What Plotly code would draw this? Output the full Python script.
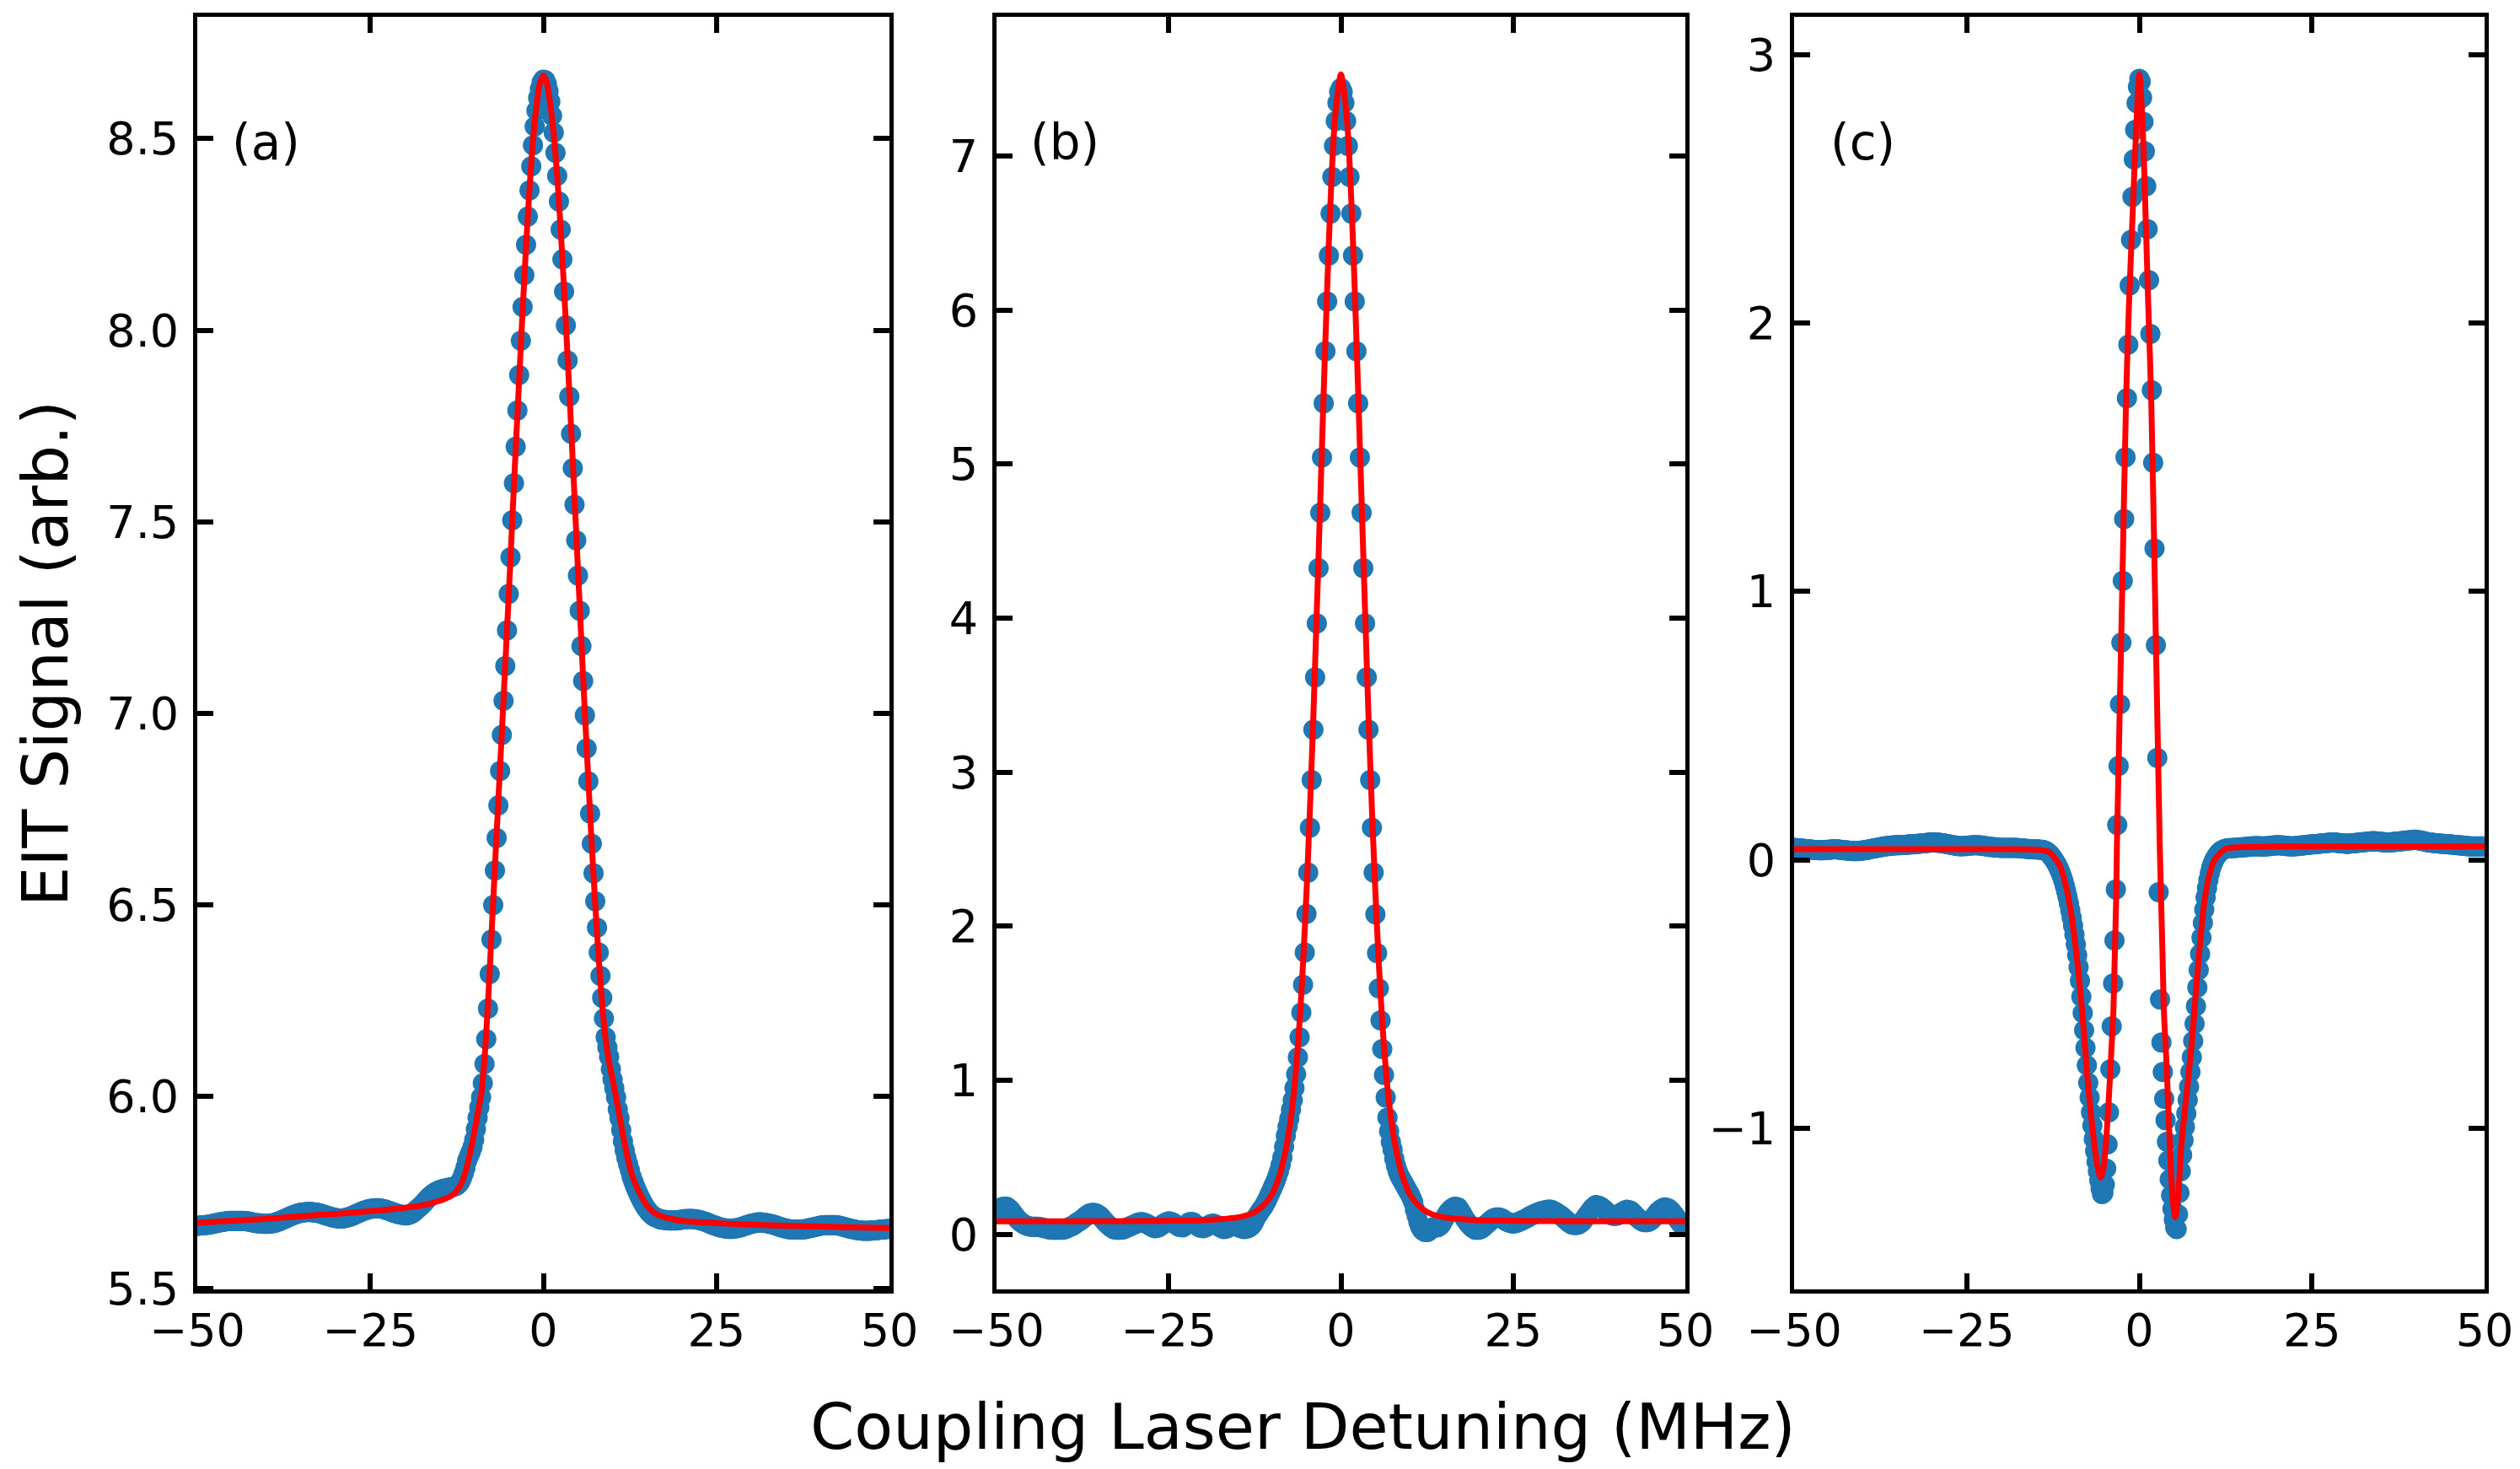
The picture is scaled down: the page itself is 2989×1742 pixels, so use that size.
import numpy as np
import plotly.graph_objects as go

# ---------------- data ----------------
# evenly spaced detuning scans (MHz)
N_A, N_B, N_C = 401, 401, 501
det_a = np.linspace(-50, 50, N_A)
det_b = np.linspace(-50, 50, N_B)
det_c = np.linspace(-50, 50, N_C)

# panel (a) measured EIT signal
sig_a = [
 5.663, 5.663, 5.664, 5.664, 5.664, 5.665, 5.666, 5.666, 5.667, 5.668, 5.669, 5.670,
 5.671, 5.672, 5.673, 5.673, 5.674, 5.675, 5.675, 5.676, 5.676, 5.676, 5.676, 5.676,
 5.676, 5.676, 5.676, 5.675, 5.675, 5.674, 5.674, 5.673, 5.672, 5.671, 5.670, 5.670,
 5.669, 5.669, 5.668, 5.668, 5.668, 5.668, 5.669, 5.669, 5.670, 5.671, 5.673, 5.674,
 5.676, 5.678, 5.680, 5.682, 5.684, 5.686, 5.688, 5.690, 5.692, 5.693, 5.695, 5.696,
 5.697, 5.698, 5.698, 5.699, 5.699, 5.699, 5.699, 5.698, 5.698, 5.697, 5.696, 5.695,
 5.694, 5.692, 5.691, 5.689, 5.688, 5.687, 5.685, 5.684, 5.683, 5.683, 5.682, 5.682,
 5.682, 5.683, 5.684, 5.685, 5.686, 5.688, 5.690, 5.692, 5.694, 5.696, 5.698, 5.700,
 5.702, 5.703, 5.705, 5.706, 5.707, 5.708, 5.708, 5.709, 5.709, 5.709, 5.708, 5.707,
 5.706, 5.705, 5.703, 5.702, 5.700, 5.698, 5.697, 5.695, 5.694, 5.693, 5.692, 5.691,
 5.690, 5.690, 5.691, 5.693, 5.695, 5.698, 5.702, 5.706, 5.710, 5.714, 5.718, 5.723,
 5.728, 5.733, 5.738, 5.742, 5.746, 5.749, 5.752, 5.754, 5.756, 5.758, 5.759, 5.760,
 5.761, 5.762, 5.763, 5.764, 5.765, 5.766, 5.768, 5.772, 5.778, 5.788, 5.800, 5.815,
 5.833, 5.845, 5.855, 5.868, 5.887, 5.915, 5.945, 5.972, 5.998, 6.035, 6.085, 6.150,
 6.230, 6.320, 6.410, 6.500, 6.590, 6.675, 6.760, 6.850, 6.944, 7.033, 7.124, 7.217,
 7.312, 7.408, 7.504, 7.601, 7.696, 7.791, 7.883, 7.973, 8.061, 8.144, 8.223, 8.297,
 8.365, 8.428, 8.483, 8.532, 8.573, 8.606, 8.630, 8.647,
 8.654, 8.653, 8.643, 8.624, 8.597, 8.560, 8.516, 8.463, 8.403, 8.336, 8.263, 8.185,
 8.101, 8.013, 7.921, 7.827, 7.730, 7.640, 7.545, 7.452, 7.360, 7.268, 7.176, 7.085,
 6.995, 6.909, 6.823, 6.739, 6.660, 6.583, 6.510, 6.441, 6.376, 6.315, 6.258, 6.204,
 6.155, 6.128, 6.104, 6.072, 6.045, 6.022, 5.998, 5.967, 5.944, 5.913, 5.883, 5.860,
 5.840, 5.824, 5.808, 5.791, 5.778, 5.766, 5.755, 5.745, 5.736, 5.727, 5.719, 5.711,
 5.705, 5.699, 5.694, 5.690, 5.687, 5.685, 5.683, 5.681,
 5.679, 5.679, 5.678, 5.678, 5.677, 5.677, 5.677, 5.677, 5.677, 5.677, 5.678, 5.678,
 5.679, 5.680, 5.680, 5.681, 5.681, 5.681, 5.681, 5.680, 5.680, 5.679, 5.678, 5.677,
 5.676, 5.674, 5.673, 5.671, 5.669, 5.667, 5.665, 5.664, 5.662, 5.661, 5.659, 5.658,
 5.657, 5.656, 5.656, 5.655, 5.655, 5.655, 5.656, 5.656, 5.657, 5.658, 5.659, 5.661,
 5.662, 5.664, 5.665, 5.667, 5.668, 5.669, 5.670, 5.671, 5.672, 5.672, 5.672, 5.671,
 5.671, 5.670, 5.669, 5.668, 5.667, 5.666, 5.664, 5.663, 5.661, 5.660, 5.658, 5.657,
 5.656, 5.655, 5.654, 5.654, 5.653, 5.653, 5.653, 5.653, 5.653, 5.653, 5.654, 5.654,
 5.655, 5.656, 5.657, 5.658, 5.659, 5.660, 5.661, 5.662, 5.663, 5.664, 5.664, 5.665,
 5.665, 5.665, 5.665, 5.665, 5.665, 5.664, 5.664, 5.663, 5.662, 5.661, 5.660, 5.658,
 5.657, 5.656, 5.655, 5.654, 5.653, 5.652, 5.651, 5.651, 5.650, 5.650, 5.650, 5.650,
 5.650, 5.650, 5.651, 5.651, 5.651, 5.652, 5.652, 5.653, 5.653, 5.654, 5.654, 5.655,
 5.655,
]

# panel (a) fit curve
fit_det_a = [-50, -45, -40, -35, -30, -25, -20, -17, -15, -14, -13, -12, -11.5, -11, -10.5,
             -10, -9.5, -9, -8.5, -8, -7.5, -7, -6.5, -6, -5.5, -5, -4.5, -4, -3.5, -3,
             -2.5, -2, -1.5, -1, -0.5, 0, 0.5, 1, 1.5, 2, 2.5, 3, 3.5, 4, 4.5, 5, 5.5, 6,
             6.5, 7, 7.5, 8, 8.5, 9, 9.5, 10, 10.5, 11, 11.5, 12, 12.5, 13, 14, 15, 16,
             17, 18, 20, 25, 30, 35, 40, 45, 50]
fit_a = [5.671, 5.676, 5.681, 5.688, 5.694, 5.701, 5.710, 5.718, 5.728, 5.735, 5.745, 5.768,
         5.790, 5.821, 5.860, 5.905, 5.955, 6.004, 6.100, 6.245, 6.420, 6.600, 6.775, 6.950,
         7.130, 7.310, 7.500, 7.690, 7.870, 8.050, 8.220, 8.370, 8.495, 8.585, 8.645, 8.665,
         8.645, 8.590, 8.510, 8.400, 8.265, 8.105, 7.930, 7.750, 7.565, 7.375, 7.185, 7.000,
         6.825, 6.655, 6.500, 6.360, 6.240, 6.150, 6.090, 6.045, 6.000, 5.950, 5.900, 5.855,
         5.815, 5.785, 5.745, 5.715, 5.697, 5.688, 5.683, 5.676, 5.670, 5.666, 5.663, 5.661,
         5.659, 5.657]

# panel (b) measured EIT signal
sig_b = [
 0.130, 0.150, 0.170, 0.175, 0.180, 0.180, 0.180, 0.170, 0.160, 0.145, 0.130, 0.115,
 0.100, 0.090, 0.080, 0.072, 0.065, 0.060, 0.055, 0.052, 0.050, 0.050, 0.050, 0.050,
 0.050, 0.048, 0.045, 0.042, 0.040, 0.038, 0.035, 0.032, 0.030, 0.030, 0.030, 0.030,
 0.030, 0.030, 0.030, 0.032, 0.035, 0.040, 0.045, 0.050, 0.055, 0.062, 0.070, 0.078,
 0.085, 0.092, 0.100, 0.110, 0.120, 0.128, 0.135, 0.138, 0.140, 0.138, 0.135, 0.128,
 0.120, 0.108, 0.095, 0.082, 0.070, 0.060, 0.050, 0.042, 0.035, 0.032, 0.030, 0.030,
 0.030, 0.032, 0.035, 0.040, 0.045, 0.050, 0.055, 0.060, 0.065, 0.070, 0.075, 0.078,
 0.080, 0.078, 0.075, 0.070, 0.065, 0.058, 0.050, 0.045, 0.040, 0.042, 0.045, 0.052,
 0.060, 0.068, 0.075, 0.080, 0.085, 0.082, 0.080, 0.072, 0.065, 0.058, 0.050, 0.048,
 0.045, 0.052, 0.060, 0.070, 0.080, 0.080, 0.080, 0.070, 0.060, 0.052, 0.045, 0.042,
 0.040, 0.045, 0.050, 0.058, 0.065, 0.068, 0.070, 0.065, 0.060, 0.052, 0.045, 0.040,
 0.035, 0.038, 0.040, 0.048, 0.055, 0.058, 0.060, 0.055, 0.050, 0.045, 0.040, 0.038,
 0.035, 0.038, 0.040, 0.048, 0.055, 0.070, 0.090, 0.115,
 0.130, 0.150, 0.165, 0.180, 0.200, 0.220, 0.245, 0.270, 0.295, 0.320, 0.345, 0.375,
 0.410, 0.450, 0.500, 0.570, 0.640, 0.700, 0.750, 0.810, 0.870, 0.950, 1.040, 1.150,
 1.280, 1.440, 1.620, 1.830, 2.080, 2.349, 2.640, 2.949, 3.276, 3.616, 3.966, 4.324,
 4.684, 5.043, 5.394, 5.733, 6.055, 6.354, 6.626, 6.864, 7.066, 7.227, 7.345, 7.416,
 7.440, 7.416, 7.345, 7.227, 7.066, 6.864, 6.626, 6.354, 6.055, 5.733, 5.394, 5.043,
 4.684, 4.324, 3.966, 3.616, 3.276, 2.949, 2.640, 2.349, 2.077, 1.826, 1.597, 1.389,
 1.203, 1.035, 0.888, 0.758, 0.670, 0.600, 0.550, 0.490, 0.445, 0.410, 0.380, 0.360,
 0.340, 0.320, 0.300, 0.280, 0.260, 0.235, 0.210, 0.160, 0.120, 0.080, 0.050, 0.030,
 0.020, 0.015, 0.015, 0.020, 0.030, 0.040, 0.050, 0.048, 0.045, 0.052, 0.060, 0.080,
 0.100, 0.120, 0.140, 0.152, 0.165, 0.172, 0.180, 0.178, 0.175, 0.158, 0.140, 0.120,
 0.100, 0.085, 0.070, 0.058, 0.045, 0.038, 0.030, 0.030, 0.030, 0.035, 0.040, 0.050,
 0.060, 0.070, 0.080, 0.090, 0.100, 0.105, 0.110, 0.110, 0.110, 0.105, 0.100, 0.092,
 0.085, 0.080, 0.075, 0.072, 0.070, 0.072, 0.075, 0.080, 0.085, 0.090, 0.095, 0.100,
 0.105, 0.112, 0.120, 0.125, 0.130, 0.135, 0.140, 0.145, 0.150, 0.152, 0.155, 0.158,
 0.160, 0.160, 0.160, 0.155, 0.150, 0.142, 0.135, 0.128, 0.120, 0.110, 0.100, 0.090,
 0.080, 0.072, 0.065, 0.062, 0.060, 0.062, 0.065, 0.072, 0.080, 0.095, 0.110, 0.125,
 0.140, 0.155, 0.170, 0.180, 0.190, 0.188, 0.185, 0.178, 0.170, 0.160, 0.150, 0.140,
 0.130, 0.125, 0.120, 0.120, 0.120, 0.128, 0.135, 0.142, 0.150, 0.155, 0.160, 0.158,
 0.155, 0.145, 0.135, 0.122, 0.110, 0.100, 0.090, 0.085, 0.080, 0.080, 0.080, 0.085,
 0.090, 0.102, 0.115, 0.130, 0.145, 0.155, 0.165, 0.170, 0.175, 0.172, 0.170, 0.160,
 0.150, 0.135, 0.120, 0.105, 0.090, 0.075, 0.060, 0.055,
 0.050,
]

# panel (b) fit curve
fit_det_b = [-50, -40, -30, -25, -20, -17, -15, -13, -12, -11, -10, -9.5, -9, -8.5, -8, -7.5,
             -7, -6.5, -6, -5.5, -5, -4.5, -4, -3.5, -3, -2.5, -2, -1.5, -1, -0.5, 0, 0.5,
             1, 1.5, 2, 2.5, 3, 3.5, 4, 4.5, 5, 5.5, 6, 6.5, 7, 7.5, 8, 8.5, 9, 9.5, 10,
             11, 12, 13, 15, 17, 20, 25, 30, 40, 50]
fit_b = [0.085, 0.085, 0.086, 0.088, 0.092, 0.100, 0.110, 0.135, 0.160, 0.200, 0.260, 0.310,
         0.370, 0.450, 0.550, 0.680, 0.850, 1.080, 1.380, 1.760, 2.220, 2.760, 3.370, 4.050,
         4.760, 5.470, 6.140, 6.720, 7.160, 7.400, 7.530, 7.400, 7.160, 6.720, 6.140, 5.470,
         4.760, 4.050, 3.370, 2.760, 2.220, 1.760, 1.380, 1.080, 0.850, 0.680, 0.550, 0.450,
         0.370, 0.310, 0.260, 0.200, 0.160, 0.135, 0.110, 0.100, 0.092, 0.088, 0.086, 0.085,
         0.085]

# panel (c) measured EIT signal
sig_c = [
 0.045, 0.044, 0.044, 0.043, 0.043, 0.042, 0.042, 0.041, 0.041, 0.040,
 0.040, 0.039, 0.039, 0.038, 0.038, 0.037, 0.037, 0.037, 0.036, 0.036,
 0.036, 0.036, 0.037, 0.037, 0.038, 0.038, 0.038, 0.039, 0.039, 0.040,
 0.040, 0.039, 0.039, 0.038, 0.038, 0.037, 0.036, 0.036, 0.035, 0.035,
 0.034, 0.034, 0.034, 0.033, 0.033, 0.033, 0.033, 0.034, 0.034, 0.035,
 0.035, 0.036, 0.037, 0.038, 0.039, 0.040, 0.041, 0.042, 0.043, 0.044,
 0.045, 0.046, 0.047, 0.048, 0.049, 0.050, 0.051, 0.051, 0.052, 0.052,
 0.053, 0.053, 0.054, 0.054, 0.055, 0.055, 0.055, 0.055, 0.056, 0.056,
 0.056, 0.056, 0.057, 0.057, 0.058, 0.058, 0.058, 0.059, 0.059, 0.060,
 0.060, 0.061, 0.061, 0.062, 0.062, 0.063, 0.063, 0.064, 0.064, 0.065,
 0.065, 0.065, 0.065, 0.064, 0.064, 0.064, 0.063, 0.062, 0.062, 0.061,
 0.060, 0.059, 0.058, 0.057, 0.056, 0.055, 0.054, 0.053, 0.052, 0.052,
 0.051, 0.051, 0.051, 0.052, 0.052, 0.052, 0.053, 0.053, 0.054, 0.054,
 0.055, 0.055, 0.055, 0.054, 0.054, 0.054, 0.053, 0.052, 0.052, 0.051,
 0.050, 0.049, 0.049, 0.048, 0.048, 0.047, 0.047, 0.046, 0.046, 0.045,
 0.045, 0.045, 0.045, 0.045, 0.045, 0.045, 0.045, 0.045, 0.045, 0.045,
 0.045, 0.045, 0.044, 0.044, 0.043, 0.043, 0.042, 0.042, 0.041, 0.041,
 0.040, 0.040, 0.040, 0.039, 0.039, 0.039, 0.039, 0.039, 0.038, 0.038,
 0.038, 0.036, 0.034, 0.031, 0.027, 0.022, 0.016, 0.009, 0.002, -0.006,
 -0.015, -0.025, -0.036, -0.048, -0.062, -0.078, -0.096, -0.116, -0.138, -0.162,
 -0.188, -0.215, -0.245, -0.278, -0.315, -0.355, -0.400, -0.450, -0.510, -0.570,
 -0.635, -0.700, -0.765, -0.830, -0.885, -0.940, -0.990, -1.040, -1.085, -1.125,
 -1.160, -1.195, -1.225, -1.245, -1.240, -1.210, -1.150, -1.060, -0.940, -0.780,
 -0.620, -0.460, -0.300, -0.110, 0.130, 0.350, 0.580, 0.810, 1.040, 1.270,
 1.500, 1.720, 1.920, 2.140, 2.310, 2.470, 2.610, 2.720, 2.820, 2.880,
 2.910, 2.900, 2.840, 2.750, 2.640, 2.510, 2.350, 2.160, 1.960, 1.750,
 1.480, 1.160, 0.800, 0.380, -0.120, -0.520, -0.680, -0.790, -0.890, -0.970,
 -1.050, -1.120, -1.190, -1.250, -1.300, -1.340, -1.370, -1.375, -1.320, -1.240,
 -1.160, -1.100, -1.045, -0.995, -0.945, -0.895, -0.845, -0.790, -0.735, -0.675,
 -0.610, -0.545, -0.475, -0.410, -0.350, -0.290, -0.235, -0.185, -0.140, -0.105,
 -0.075, -0.050, -0.030, -0.015, -0.003, 0.007, 0.015, 0.022, 0.028, 0.033,
 0.036, 0.039, 0.041, 0.042, 0.043, 0.044, 0.044, 0.044, 0.045, 0.045,
 0.045, 0.045, 0.046, 0.046, 0.047, 0.047, 0.048, 0.048, 0.049, 0.049,
 0.050, 0.050, 0.050, 0.051, 0.051, 0.051, 0.051, 0.051, 0.050, 0.050,
 0.050, 0.050, 0.051, 0.051, 0.052, 0.052, 0.053, 0.053, 0.054, 0.054,
 0.055, 0.055, 0.054, 0.054, 0.053, 0.053, 0.052, 0.052, 0.051, 0.051,
 0.050, 0.050, 0.051, 0.051, 0.052, 0.052, 0.053, 0.053, 0.054, 0.054,
 0.055, 0.056, 0.056, 0.057, 0.057, 0.058, 0.058, 0.059, 0.059, 0.060,
 0.060, 0.061, 0.061, 0.062, 0.062, 0.063, 0.063, 0.064, 0.064, 0.065,
 0.065, 0.065, 0.064, 0.064, 0.063, 0.063, 0.062, 0.062, 0.061, 0.061,
 0.060, 0.060, 0.061, 0.061, 0.062, 0.062, 0.063, 0.063, 0.064, 0.064,
 0.065, 0.066, 0.066, 0.067, 0.067, 0.068, 0.068, 0.069, 0.069, 0.070,
 0.070, 0.069, 0.069, 0.068, 0.068, 0.067, 0.067, 0.066, 0.066, 0.065,
 0.065, 0.065, 0.066, 0.066, 0.067, 0.067, 0.068, 0.068, 0.069, 0.069,
 0.070, 0.071, 0.071, 0.072, 0.072, 0.073, 0.073, 0.074, 0.074, 0.075,
 0.075, 0.074, 0.073, 0.073, 0.072, 0.071, 0.070, 0.068, 0.067, 0.066,
 0.065, 0.064, 0.064, 0.063, 0.063, 0.062, 0.062, 0.061, 0.061, 0.060,
 0.060, 0.060, 0.059, 0.059, 0.058, 0.058, 0.057, 0.057, 0.056, 0.056,
 0.055, 0.055, 0.054, 0.054, 0.053, 0.053, 0.052, 0.052, 0.051, 0.051,
 0.050, 0.050, 0.050, 0.050, 0.050, 0.050, 0.050, 0.050, 0.050, 0.050,
 0.050,
]

# panel (c) fit curve
fit_det_c = [-50, -30, -20, -15, -13.1, -12.3, -11.5, -10.7, -9.87, -9.25, -8.65, -8.1, -7.63,
             -7.1, -6.62, -6.1, -5.59, -5.2, -4.79, -4.45, -4.18, -3.95, -3.76, -3.56, -3.36,
             -3.24, -3.0, -2.5, -1.93, -1.5, -1.0, -0.5, 0, 0.5, 0.92, 1.3, 1.73, 2.3, 2.95,
             3.15, 3.36, 3.56, 3.97, 4.37, 4.8, 5.19, 5.6, 6.0, 6.4, 6.81, 7.63, 8.45, 9.46,
             10.2, 10.9, 12.5, 15, 20, 30, 50]
fit_c = [0.040, 0.040, 0.040, 0.038, 0.030, 0.008, -0.022, -0.090, -0.200, -0.320, -0.462,
         -0.620, -0.776, -0.925, -1.038, -1.135, -1.184, -1.150, -1.038, -0.900, -0.776,
         -0.660, -0.566, -0.357, -0.148, 0.062, 0.360, 0.980, 1.707, 2.070, 2.387, 2.700,
         2.926, 2.720, 2.387, 2.060, 1.707, 0.950, 0.062, -0.148, -0.357, -0.566, -0.776,
         -1.038, -1.250, -1.331, -1.260, -1.090, -0.980, -0.880, -0.671, -0.409, -0.148,
         -0.050, 0.000, 0.041, 0.048, 0.050, 0.050, 0.050]

assert len(sig_a) == N_A, len(sig_a)
assert len(sig_b) == N_B, len(sig_b)
assert len(sig_c) == N_C, len(sig_c)
assert len(fit_det_a) == len(fit_a), (len(fit_det_a), len(fit_a))
assert len(fit_det_b) == len(fit_b), (len(fit_det_b), len(fit_b))
assert len(fit_det_c) == len(fit_c), (len(fit_det_c), len(fit_c))

x_ticks = [-50, -25, 0, 25, 50]
x_ticktext = ["\u221250", "\u221225", "0", "25", "50"]
ya_ticks = [5.5, 6.0, 6.5, 7.0, 7.5, 8.0, 8.5]
ya_text = ["5.5", "6.0", "6.5", "7.0", "7.5", "8.0", "8.5"]
yb_ticks = [0, 1, 2, 3, 4, 5, 6, 7]
yb_text = ["0", "1", "2", "3", "4", "5", "6", "7"]
yc_ticks = [-1, 0, 1, 2, 3]
yc_text = ["\u22121", "0", "1", "2", "3"]
panel_labels = ["(a)", "(b)", "(c)"]

# ---------------- figure ----------------
W, H = 2989, 1742
FONT = "DejaVu Sans"
BLUE = "#1f77b4"

fig = go.Figure()
panels = [(det_a, sig_a, fit_det_a, fit_a, "x", "y"),
          (det_b, sig_b, fit_det_b, fit_b, "x2", "y2"),
          (det_c, sig_c, fit_det_c, fit_c, "x3", "y3")]
for d, s, fd, fv, xa, ya in panels:
    fig.add_trace(go.Scatter(x=d, y=s, mode="markers", xaxis=xa, yaxis=ya,
                             marker=dict(size=24, color=BLUE, line=dict(width=0)),
                             showlegend=False, hoverinfo="skip"))
    fig.add_trace(go.Scatter(x=fd, y=fv, mode="lines", xaxis=xa, yaxis=ya,
                             line=dict(color="red", width=7, shape="spline", smoothing=0.8),
                             showlegend=False, hoverinfo="skip"))

common = dict(showline=True, linecolor="black", linewidth=5, mirror="ticks",
              ticks="inside", ticklen=19, tickwidth=6, tickcolor="black",
              showgrid=False, zeroline=False, automargin=False,
              tickfont=dict(family=FONT, size=54, color="black"))

x_domains = [[234 / W, 1055 / W], [1182 / W, 1999 / W], [2128 / W, 2947 / W]]
y_domain = [1 - 1529 / H, 1 - 20 / H]
y_ranges = [[5.497, 8.818], [-0.357, 7.903], [-1.600, 3.141]]
y_tick_sets = [(ya_ticks, ya_text), (yb_ticks, yb_text), (yc_ticks, yc_text)]

layout = dict(width=W, height=H,
              margin=dict(l=0, r=0, t=0, b=0, pad=0, autoexpand=False),
              paper_bgcolor="white", plot_bgcolor="white", showlegend=False)
names = ["", "2", "3"]
for i, n in enumerate(names):
    layout["xaxis" + n] = dict(common, domain=x_domains[i], range=[-50, 50],
                               anchor="y" + n, tickmode="array", tickvals=x_ticks,
                               ticktext=x_ticktext, ticklabelstandoff=-3)
    layout["yaxis" + n] = dict(common, domain=y_domain, range=y_ranges[i],
                               anchor="x" + n, tickmode="array",
                               tickvals=y_tick_sets[i][0], ticktext=y_tick_sets[i][1],
                               ticklabelstandoff=6)
fig.update_layout(**layout)

annotations = []
for i, n in enumerate(names):
    annotations.append(dict(text=panel_labels[i], xref=("x" + n + " domain"),
                            yref=("y" + n + " domain"), x=0.099, y=0.901,
                            xanchor="center", yanchor="middle", showarrow=False,
                            font=dict(family=FONT, size=58, color="black")))
annotations.append(dict(text="Coupling Laser Detuning (MHz)", xref="paper", yref="paper",
                        x=1545 / W, y=1 - 1692 / H, xanchor="center", yanchor="middle",
                        showarrow=False, font=dict(family=FONT, size=75, color="black")))
annotations.append(dict(text="EIT Signal (arb.)", xref="paper", yref="paper",
                        x=54 / W, y=1 - 775 / H, xanchor="center", yanchor="middle",
                        textangle=-90, showarrow=False,
                        font=dict(family=FONT, size=75, color="black")))
fig.update_layout(annotations=annotations)

fig.write_html("out.html", config={"displayModeBar": False},
               post_script="document.body.style.margin='0px';")
